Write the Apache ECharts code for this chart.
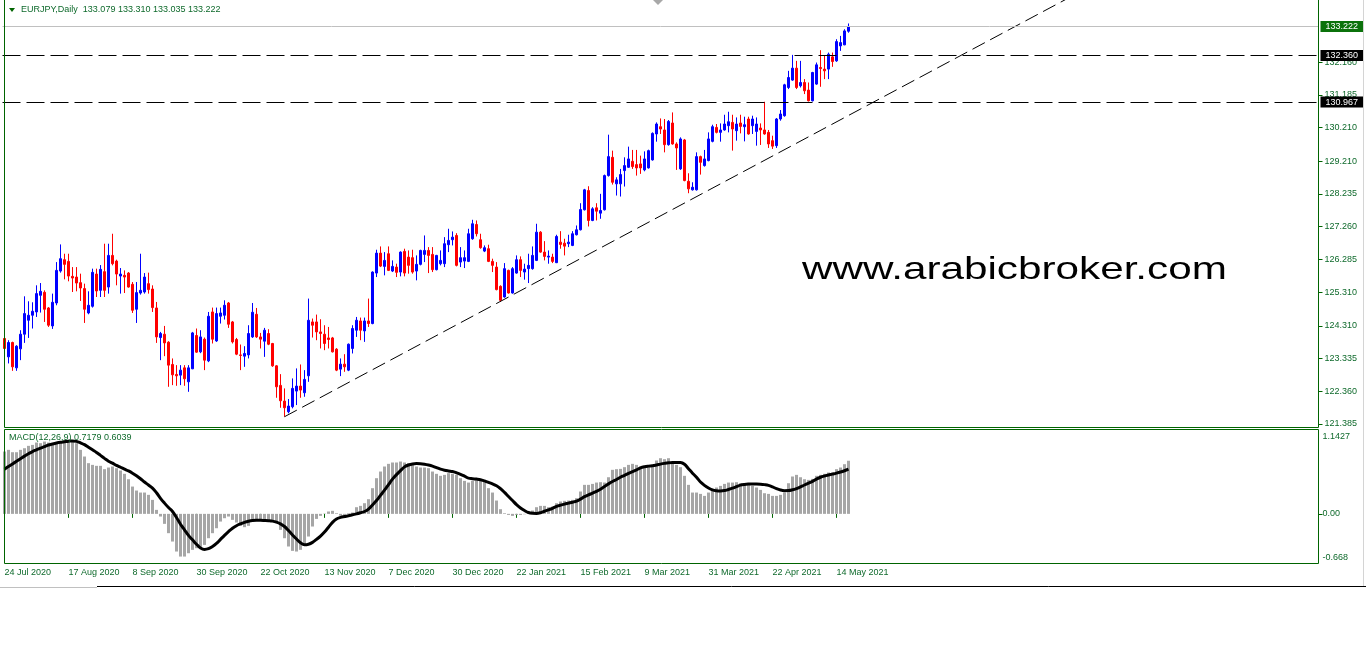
<!DOCTYPE html>
<html><head><meta charset="utf-8">
<script src="https://cdn.jsdelivr.net/npm/echarts@6/dist/echarts.min.js"></script>
<style>html,body{margin:0;padding:0;background:#fff;}#c{width:1366px;height:672px;}</style>
</head><body><div id="c"></div>
<script>
// ---------------- data ----------------
const symbolTitle = 'EURJPY,Daily';
const openV = [123.931,123.384,123.812,123.057,123.622,124.058,124.474,124.623,124.721,125.217,
125.306,124.840,124.305,124.988,125.939,126.277,126.227,125.781,125.760,125.594,
125.416,124.691,124.890,125.850,125.365,125.921,125.463,126.405,126.236,125.790,
125.811,125.879,125.544,124.801,125.285,125.315,125.564,125.404,124.840,123.960,
124.058,123.821,123.158,122.861,122.840,123.057,122.641,123.028,124.020,123.533,
123.910,123.265,124.721,123.859,124.593,124.623,124.988,124.424,123.901,123.443,
123.405,123.443,123.978,124.652,123.978,123.850,124.079,123.782,123.117,122.535,
122.068,121.750,121.899,122.365,122.514,122.315,122.820,124.424,124.424,124.127,
124.058,123.948,123.948,123.613,123.019,123.167,122.989,123.634,124.177,124.453,
124.156,124.453,124.376,125.879,126.473,126.078,126.455,125.939,126.057,125.909,
126.524,126.354,126.337,125.939,126.138,126.435,126.553,126.435,125.980,126.158,
126.158,126.723,126.871,126.999,126.206,126.236,126.227,126.901,127.326,126.871,
126.533,126.604,126.227,126.057,125.484,125.166,125.959,125.285,125.879,126.277,
125.909,126.010,126.010,126.256,127.097,126.503,126.354,126.354,126.188,126.800,
126.770,126.753,126.702,127.020,127.168,127.763,128.336,127.445,127.822,127.662,
127.763,128.781,129.325,128.535,128.535,128.930,129.028,129.206,129.108,129.129,
128.951,129.010,129.248,130.020,130.237,130.139,129.702,130.347,129.723,128.980,
129.842,128.612,128.357,128.357,129.346,129.078,129.227,129.800,130.216,130.068,
130.139,130.267,130.365,130.118,130.347,130.237,130.466,130.267,130.097,130.198,
130.139,130.068,129.821,129.672,130.466,130.564,131.404,131.624,131.980,131.455,
131.553,131.327,131.009,131.505,131.998,131.951,131.951,132.316,132.197,132.643,
132.673,133.079];
const closeV = [123.634,123.812,123.087,123.702,124.058,124.673,124.623,124.742,125.267,125.336,
124.801,124.326,125.009,125.959,126.307,126.138,125.790,125.731,125.582,125.434,
124.801,124.920,125.900,125.345,125.989,125.365,126.405,126.158,125.850,125.850,
125.760,125.463,124.771,125.297,125.365,125.760,125.386,124.851,123.978,124.079,
123.800,123.138,122.849,122.820,122.989,122.731,123.057,124.097,123.524,123.978,
123.286,124.593,123.910,124.673,124.691,124.920,124.355,123.830,123.464,123.426,
123.485,124.079,124.712,123.978,123.910,124.177,123.761,123.117,122.493,122.077,
121.869,121.920,122.445,122.514,122.395,122.713,124.474,124.326,124.127,124.079,
123.782,123.901,123.533,122.989,123.167,123.087,123.761,124.228,124.474,124.177,
124.453,124.376,125.909,126.473,126.087,126.256,125.959,126.078,125.900,126.503,
125.879,126.108,125.909,126.138,126.553,126.553,126.405,125.980,126.405,126.256,
126.753,126.851,126.949,126.108,126.337,126.337,127.050,127.347,127.050,126.634,
126.634,126.227,126.108,125.386,125.068,126.010,125.285,126.010,126.277,125.959,
125.998,126.108,126.405,127.097,126.503,126.375,126.384,126.227,126.969,126.732,
126.681,126.800,127.050,127.168,127.771,128.357,127.445,127.792,127.721,127.742,
128.781,129.346,128.582,128.654,128.811,129.078,129.277,129.049,129.010,129.010,
129.277,129.524,130.038,130.317,130.168,129.702,130.394,129.723,129.604,129.872,
128.633,128.386,128.434,129.346,129.176,129.277,129.872,130.237,130.068,130.139,
130.317,130.385,130.168,130.317,130.246,130.296,130.020,130.466,130.317,130.139,
130.020,129.723,129.658,130.466,130.614,131.484,131.701,131.980,131.404,131.553,
131.306,131.009,131.850,132.078,131.969,131.900,132.396,132.177,132.771,132.741,
133.089,133.222];
const lowV = [122.820,123.188,122.968,122.968,123.286,123.800,123.948,124.228,124.572,124.703,
124.424,124.275,124.216,124.920,125.891,125.692,125.633,125.315,125.336,125.048,
124.394,124.652,124.851,125.166,125.166,125.166,125.267,126.108,125.514,125.267,
125.285,125.446,124.691,124.394,125.238,125.267,125.267,124.721,123.800,123.286,
123.405,122.493,122.543,122.523,122.543,122.523,122.344,123.019,123.503,123.494,
122.989,123.227,123.782,123.830,124.376,124.495,124.246,123.782,123.435,122.989,
123.087,123.337,123.948,123.948,123.634,123.384,123.732,123.087,122.166,121.869,
121.602,121.703,121.851,121.949,122.166,122.196,122.641,123.960,123.880,123.634,
123.583,123.634,123.515,122.959,122.811,122.939,122.959,123.485,123.978,123.880,
123.830,124.275,124.355,125.760,126.057,125.811,125.939,125.909,125.760,125.781,
125.781,125.861,125.861,125.662,126.108,126.206,125.879,125.909,125.959,126.108,
126.057,126.503,126.702,126.078,126.057,126.028,126.206,126.871,126.969,126.604,
126.503,126.206,125.909,125.365,125.018,125.148,125.267,125.267,125.861,125.760,
125.683,125.582,125.980,126.236,126.485,126.256,126.158,126.176,126.176,126.604,
126.405,126.652,126.681,126.999,127.148,127.742,127.266,127.424,127.445,127.495,
127.742,128.752,128.514,128.187,128.158,128.455,129.010,128.980,128.781,128.832,
128.909,128.989,129.227,129.791,130.020,129.473,129.672,129.702,128.950,128.951,
128.612,128.256,128.336,128.336,128.811,129.049,129.206,129.771,130.038,129.791,
130.118,130.068,129.524,129.821,130.038,129.800,129.999,130.020,129.672,129.693,
129.999,129.604,129.574,129.604,130.415,130.534,131.357,131.603,131.357,131.404,
131.208,130.988,130.988,131.484,131.425,131.654,131.654,132.019,132.168,132.494,
132.664,133.035];
const highV = [123.978,123.880,123.836,123.732,124.177,125.187,125.039,125.009,125.514,125.582,
125.365,124.869,125.267,126.206,126.732,126.455,126.455,126.057,126.057,125.861,
125.564,125.336,126.010,126.010,126.117,126.753,126.753,127.050,126.277,126.028,
125.959,125.909,125.612,125.612,126.455,125.879,125.891,125.514,125.018,124.127,
124.305,123.850,123.337,123.138,123.138,123.138,123.138,124.127,124.228,124.177,
123.960,124.721,124.851,124.851,124.851,125.068,125.018,124.453,123.948,123.752,
123.702,124.326,124.988,124.840,124.097,124.246,124.207,123.800,123.138,122.870,
122.445,122.128,122.742,123.040,123.158,122.989,125.119,124.525,124.643,124.504,
124.326,124.275,123.978,123.643,123.337,123.464,123.782,124.326,124.572,124.554,
124.554,125.119,125.930,126.574,126.672,126.503,126.672,126.256,126.158,126.524,
126.604,126.553,126.574,126.405,126.574,126.999,126.652,126.652,126.420,126.553,
126.949,127.198,127.118,127.067,126.652,126.553,127.198,127.465,127.445,127.050,
126.702,126.723,126.307,126.206,125.514,126.176,125.980,126.057,126.405,126.375,
126.158,126.455,126.672,127.347,127.127,126.830,126.553,126.455,127.020,127.127,
126.901,127.020,127.127,127.296,127.959,128.386,128.464,127.840,127.959,128.238,
128.811,129.999,129.524,128.731,128.980,129.325,129.643,129.545,129.545,129.375,
129.503,129.553,130.068,130.365,130.483,130.466,130.436,130.662,129.771,129.919,
129.872,128.850,128.582,129.473,129.375,129.545,130.068,130.296,130.317,130.335,
130.593,130.682,130.593,130.513,130.593,130.534,130.534,130.564,130.513,130.335,
130.979,130.139,129.969,130.495,130.733,131.514,131.900,132.375,132.197,132.197,
131.654,131.553,131.870,132.147,132.515,132.346,132.444,132.444,132.842,132.940,
133.139,133.310];
const macdMain = [0.842,0.865,0.833,0.833,0.865,0.887,0.919,0.932,0.964,0.955,
0.977,0.964,0.946,0.955,0.977,1.000,1.000,0.991,0.955,0.865,
0.775,0.685,0.662,0.649,0.649,0.604,0.626,0.640,0.617,0.586,
0.541,0.468,0.369,0.315,0.288,0.288,0.257,0.189,0.054,-0.036,
-0.135,-0.261,-0.374,-0.509,-0.577,-0.577,-0.532,-0.486,-0.464,-0.464,
-0.419,-0.329,-0.261,-0.194,-0.104,-0.059,-0.036,-0.081,-0.117,-0.162,
-0.180,-0.162,-0.104,-0.081,-0.081,-0.072,-0.081,-0.104,-0.126,-0.216,
-0.329,-0.441,-0.500,-0.509,-0.486,-0.419,-0.306,-0.171,-0.068,-0.027,
0.004,0.032,0.041,0.009,-0.023,-0.014,0.009,0.018,0.090,0.108,
0.144,0.198,0.347,0.482,0.572,0.640,0.676,0.694,0.694,0.707,
0.694,0.685,0.662,0.640,0.626,0.626,0.617,0.572,0.541,0.514,
0.527,0.550,0.541,0.527,0.482,0.446,0.423,0.446,0.468,0.459,
0.428,0.347,0.288,0.180,0.063,0.009,-0.014,-0.027,-0.014,-0.014,
-0.005,0.018,0.045,0.090,0.108,0.108,0.090,0.099,0.144,0.167,
0.176,0.180,0.189,0.212,0.302,0.392,0.392,0.405,0.423,0.428,
0.423,0.495,0.595,0.604,0.608,0.631,0.662,0.676,0.662,0.640,
0.631,0.640,0.662,0.721,0.752,0.739,0.752,0.694,0.662,0.631,
0.514,0.392,0.288,0.288,0.270,0.243,0.288,0.315,0.356,0.378,
0.405,0.423,0.423,0.428,0.414,0.405,0.392,0.378,0.356,0.324,
0.279,0.270,0.243,0.243,0.257,0.288,0.414,0.505,0.527,0.495,
0.468,0.459,0.473,0.514,0.527,0.541,0.559,0.563,0.604,0.626,
0.671,0.7179];
const macdSignal = [0.604,0.640,0.675,0.710,0.745,0.780,0.812,0.842,0.865,0.888,
0.908,0.930,0.945,0.958,0.968,0.975,0.982,0.986,0.980,0.960,
0.935,0.900,0.865,0.830,0.790,0.750,0.712,0.685,0.655,0.630,
0.605,0.580,0.550,0.515,0.475,0.430,0.390,0.347,0.285,0.210,
0.145,0.085,0.032,-0.050,-0.140,-0.215,-0.290,-0.351,-0.410,-0.460,
-0.480,-0.470,-0.441,-0.400,-0.345,-0.290,-0.240,-0.194,-0.160,-0.135,
-0.115,-0.100,-0.090,-0.087,-0.087,-0.089,-0.092,-0.098,-0.112,-0.135,
-0.171,-0.225,-0.285,-0.340,-0.390,-0.419,-0.410,-0.385,-0.345,-0.300,
-0.245,-0.180,-0.115,-0.070,-0.048,-0.036,-0.025,-0.012,0.000,0.015,
0.032,0.065,0.120,0.180,0.250,0.320,0.395,0.470,0.530,0.585,
0.635,0.660,0.675,0.680,0.678,0.671,0.660,0.645,0.625,0.605,
0.590,0.580,0.572,0.555,0.535,0.510,0.482,0.475,0.470,0.462,
0.445,0.425,0.405,0.380,0.340,0.290,0.234,0.180,0.125,0.080,
0.045,0.018,0.008,0.006,0.015,0.035,0.054,0.075,0.100,0.118,
0.132,0.145,0.158,0.172,0.200,0.232,0.257,0.280,0.305,0.333,
0.370,0.405,0.437,0.465,0.495,0.520,0.548,0.572,0.595,0.622,
0.637,0.645,0.650,0.660,0.672,0.682,0.690,0.694,0.695,0.694,
0.670,0.610,0.550,0.495,0.430,0.385,0.350,0.324,0.313,0.310,
0.315,0.330,0.347,0.368,0.388,0.398,0.403,0.405,0.404,0.401,
0.395,0.385,0.365,0.340,0.322,0.314,0.315,0.325,0.342,0.365,
0.390,0.414,0.440,0.470,0.495,0.512,0.525,0.537,0.550,0.565,
0.583,0.6039];
const priceTicks = [121.385,122.360,123.335,124.310,125.310,126.285,127.260,128.235,129.210,130.210,131.185,132.160];
const macdTicks = [-0.668, 0, 1.1427];
const levelLines = [132.360, 130.967];
const trendPoints = [[70, 121.602], [266, 134.07]];
const firstDay = [2020, 6, 24];
const closedDays = ['2020-12-25', '2021-01-01'];

// ---------------- build ----------------
const MONTHS = ['Jan','Feb','Mar','Apr','May','Jun','Jul','Aug','Sep','Oct','Nov','Dec'];
const dates = [];
let d = new Date(Date.UTC(firstDay[0], firstDay[1], firstDay[2]));
while (dates.length < openV.length) {
  const wd = d.getUTCDay();
  const iso = d.toISOString().slice(0, 10);
  if (wd !== 0 && wd !== 6 && closedDays.indexOf(iso) < 0) {
    dates.push(d.getUTCDate() + ' ' + MONTHS[d.getUTCMonth()] + ' ' + d.getUTCFullYear());
  }
  d = new Date(d.getTime() + 86400000);
}
const SLOTS = 329;
const cats = dates.concat(Array.from({length: SLOTS - dates.length}, (_, i) => 'pad' + i));
const candles = openV.map((o, i) => [o, closeV[i], lowV[i], highV[i]]);
const n = openV.length;
const lastClose = closeV[n - 1];
const FONT = '"Liberation Sans", Arial, sans-serif';
const TXT = '#0f6a2c';
const FRAME = '#006400';
const showIdx = (i) => i % 16 === 0 && i < dates.length;

const chart = echarts.init(document.getElementById('c'));
chart.setOption({
  animation: false,
  backgroundColor: '#ffffff',
  grid: [
    {left: 2.5, top: -1, width: 1316, height: 428, show: false},
    {left: 2.5, top: 429.3, width: 1316, height: 134, show: false}
  ],
  xAxis: [
    {type: 'category', gridIndex: 0, data: cats, boundaryGap: true,
     axisLine: {show: false}, axisTick: {show: false}, axisLabel: {show: false}, splitLine: {show: false}},
    {type: 'category', gridIndex: 1, data: cats, boundaryGap: true,
     axisLine: {show: false},
     axisTick: {show: true, alignWithLabel: true, interval: showIdx, length: 4, lineStyle: {color: FRAME}},
     axisLabel: {interval: showIdx, align: 'left', margin: 5, fontSize: 9, fontFamily: FONT, color: TXT},
     splitLine: {show: false}}
  ],
  yAxis: [
    {type: 'value', gridIndex: 0, position: 'right', min: 121.2959, max: 134.009,
     axisLine: {show: false}, splitLine: {show: false},
     axisTick: {show: true, customValues: priceTicks, length: 4, inside: false, lineStyle: {color: FRAME}},
     axisLabel: {customValues: priceTicks, formatter: (v) => Number(v).toFixed(3), fontSize: 9, fontFamily: FONT, color: TXT, margin: 6}},
    {type: 'value', gridIndex: 1, position: 'right', min: -0.668, max: 1.1427,
     axisLine: {show: false}, splitLine: {show: false},
     axisTick: {show: true, customValues: [0], length: 4, inside: false, lineStyle: {color: FRAME}},
     axisLabel: {customValues: macdTicks, fontSize: 9, fontFamily: FONT, color: TXT, margin: 4,
       formatter: (v) => v === 0 ? '0.00' : (v > 0 ? '{t|1.1427}' : '{b|-0.668}'),
       rich: {t: {padding: [14, 0, 0, 0], fontSize: 9, fontFamily: FONT, color: TXT},
              b: {padding: [0, 0, 12, 0], fontSize: 9, fontFamily: FONT, color: TXT}}}}
  ],
  series: [
    {type: 'candlestick', xAxisIndex: 0, yAxisIndex: 0, data: candles, barWidth: 2,
     itemStyle: {color: '#0000ff', color0: '#ff0000', borderColor: '#0000ff', borderColor0: '#ff0000', borderWidth: 1},
     markLine: {silent: true, symbol: ['none', 'none'], animation: false,
       data: [
         {yAxis: lastClose, lineStyle: {color: '#c0c0c0', type: 'solid', width: 1},
          label: {position: 'end', distance: 2, formatter: lastClose.toFixed(3), color: '#ffffff', backgroundColor: '#0b720b', padding: [1, 5, 1, 5], fontSize: 9, fontFamily: FONT}},
         ...levelLines.map(v => ({yAxis: v, lineStyle: {color: '#000000', type: [18, 6], width: 1},
          label: {position: 'end', distance: 2, formatter: v.toFixed(3), color: '#ffffff', backgroundColor: '#000000', padding: [1, 5, 1, 5], fontSize: 9, fontFamily: FONT}}))
       ]}},
    {type: 'line', xAxisIndex: 0, yAxisIndex: 0, data: trendPoints, symbol: 'none', clip: true, silent: true,
     lineStyle: {color: '#000000', width: 1, type: [14, 6]}},
    {type: 'bar', xAxisIndex: 1, yAxisIndex: 1, data: macdMain, barWidth: 3, silent: true,
     itemStyle: {color: '#a6a6a6'}},
    {type: 'line', xAxisIndex: 1, yAxisIndex: 1, data: macdSignal, symbol: 'none', smooth: 0.4, silent: true,
     lineStyle: {color: '#000000', width: 3}}
  ],
  graphic: [
    {type: 'rect', z: 100, silent: true, shape: {x: 4.5, y: -0.5, width: 1314, height: 428}, style: {fill: null, stroke: FRAME, lineWidth: 1}},
    {type: 'rect', z: 100, silent: true, shape: {x: 4.5, y: 429.5, width: 1314, height: 134}, style: {fill: null, stroke: FRAME, lineWidth: 1}},
    {type: 'polygon', z: 100, shape: {points: [[9, 8], [15, 8], [12, 12]]}, style: {fill: FRAME}},
    {type: 'text', z: 100, x: 21, y: 10, style: {
      text: symbolTitle + '  ' + openV[n-1].toFixed(3) + ' ' + highV[n-1].toFixed(3) + ' ' + lowV[n-1].toFixed(3) + ' ' + closeV[n-1].toFixed(3),
      fontSize: 9, fontFamily: FONT, fill: TXT, verticalAlign: 'middle', textVerticalAlign: 'middle'}},
    {type: 'text', z: 100, x: 9, y: 438, style: {
      text: 'MACD(12,26,9) ' + macdMain[n-1].toFixed(4) + ' ' + macdSignal[n-1].toFixed(4),
      fontSize: 9, fontFamily: FONT, fill: TXT, verticalAlign: 'middle', textVerticalAlign: 'middle'}},
    {type: 'text', z: 100, x: 802, y: 270, scaleX: 1.32, style: {
      text: 'www.arabicbroker.com', fontSize: 32, fontFamily: FONT, fill: '#000000', verticalAlign: 'middle', textVerticalAlign: 'middle'}},
    {type: 'polygon', z: 100, shape: {points: [[653, 0], [663, 0], [658, 5]]}, style: {fill: '#a8a8a8'}},
    {type: 'line', z: 100, shape: {x1: 1363.5, y1: 0, x2: 1363.5, y2: 586}, style: {stroke: '#d4d4d4', lineWidth: 1}},
    {type: 'line', z: 100, shape: {x1: 97, y1: 586.5, x2: 1366, y2: 586.5}, style: {stroke: '#000000', lineWidth: 1}},
    {type: 'line', z: 100, shape: {x1: 0, y1: 587.5, x2: 97, y2: 587.5}, style: {stroke: '#c0c0c0', lineWidth: 1}}
  ]
});
</script></body></html>
